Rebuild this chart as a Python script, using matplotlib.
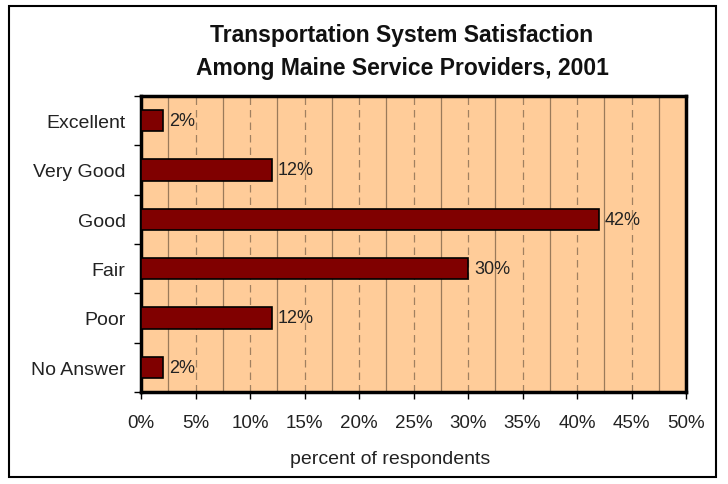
import matplotlib.pyplot as plt
import matplotlib.patches as patches
import numpy as np

# Survey responses
categories = ["Excellent", "Very Good", "Good", "Fair", "Poor", "No Answer"]
percents = [2, 12, 42, 30, 12, 2]
xticks = [0, 5, 10, 15, 20, 25, 30, 35, 40, 45, 50]

plt.rcParams['font.family'] = ['Liberation Sans', 'DejaVu Sans']
txt_color = '#222222'

fig = plt.figure(figsize=(7.28, 4.85), dpi=100)
ax = fig.add_axes([141/728, 1 - 393/485, 545/728, 296/485])

# Outer chart border
fig.patches.append(patches.Rectangle((9/728, 7/485), 707/728, 471/485, transform=fig.transFigure,
                                     fill=False, edgecolor='black', linewidth=1.5))

ax.set_facecolor('#FFCC99')
y = np.arange(len(categories))
ax.barh(y, percents, height=0.43, color='#800000', edgecolor='black', linewidth=1.2, zorder=3)

for yi, p in zip(y, percents):
    ax.text(p + 0.55, yi, f"{p}%", va='center', ha='left', fontsize=13, color=txt_color, zorder=4)

# Gridlines: solid between labels, dashed at labels
for xv in np.arange(2.5, 50, 5):
    ax.axvline(xv, color='#9a7a5a', linewidth=0.9, zorder=1)
for xv in np.arange(5, 50, 5):
    ax.axvline(xv, color='#a08060', linewidth=0.9, linestyle=(0, (6, 4)), zorder=1)

ax.set_xlim(0, 50)
ax.set_ylim(len(categories) - 0.5, -0.5)
ax.set_xticks(xticks)
ax.set_xticklabels([f"{v}%" for v in xticks], fontsize=13.5, color=txt_color)
ax.set_yticks(y)
ax.set_yticklabels(categories, fontsize=14, color=txt_color)
ax.tick_params(axis='y', length=0, pad=11)
ax.set_yticks(np.arange(-0.5, len(categories), 1), minor=True)
ax.tick_params(axis='y', which='minor', length=5, width=1, direction='out')
ax.tick_params(axis='x', length=5, width=1, direction='out', pad=11)

for s in ax.spines.values():
    s.set_linewidth(2.5)

ax.set_xlabel("percent of respondents", fontsize=14, color=txt_color)
ax.xaxis.set_label_coords((390 - 141) / 545, -(460 - 393) / 296)
ax.xaxis.label.set_va('center')
fig.text(402/728, 1 - 52/485, "Transportation System Satisfaction\nAmong Maine Service Providers, 2001",
         ha='center', va='center', fontsize=16.5, fontweight='bold', linespacing=1.6, color='#111111')

fig.savefig("out.png", dpi=100)
